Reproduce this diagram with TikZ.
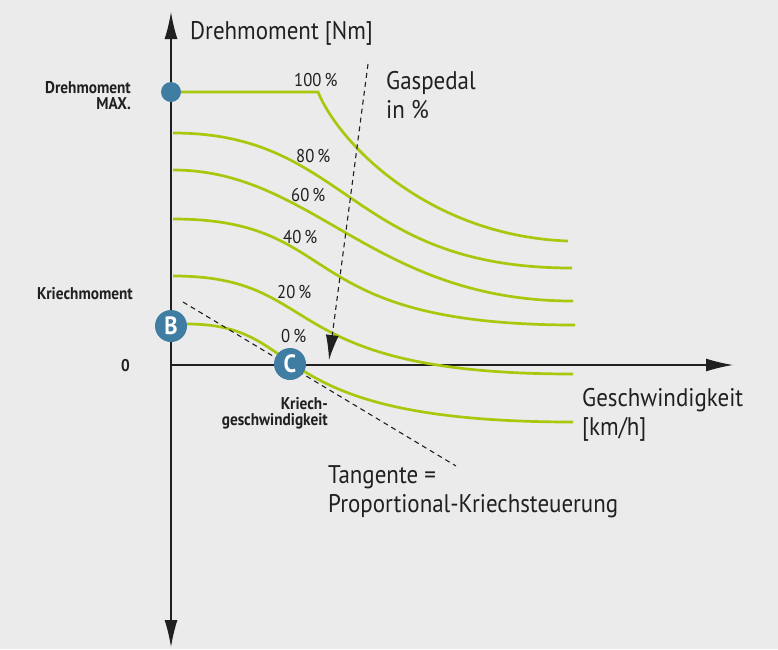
\documentclass[tikz,border=0pt]{standalone}
\usepackage{fontspec}
\setmainfont{PT Sans}[FakeStretch=0.9]
\usetikzlibrary{arrows.meta}
\definecolor{grund}{RGB}{235,235,235}
\definecolor{gruen}{RGB}{168,200,14}
\definecolor{blau}{RGB}{63,125,162}
\definecolor{tinte}{RGB}{32,32,32}
\tikzstyle{achse} = [draw=tinte, line width=1.3pt, -{Latex[length=27pt,width=13pt]}]
\tikzstyle{kurve} = [draw=gruen, line width=2.7pt]
\tikzstyle{hilfe} = [draw=tinte, line width=1.1pt, dash pattern=on 5pt off 4pt]
\tikzstyle{prozent} = [inner sep=0, anchor=base west, text=tinte, font=\fontsize{18.5}{20}\selectfont]
\tikzstyle{marke} = [inner sep=0, anchor=base east, align=right, text=tinte, font=\bfseries\fontsize{17}{16}\selectfont]
\tikzstyle{titel} = [inner sep=0, anchor=base west, align=left, text=tinte, font=\fontsize{25.5}{29}\selectfont]
\tikzstyle{kreis} = [circle, fill=blau, inner sep=0, minimum size=32pt, text=white, font=\bfseries\fontsize{25}{25}\selectfont]

\begin{document}
\begin{tikzpicture}[x=1pt,y=-1pt]
\fill[grund] (0,0) rectangle (778,649);
\useasboundingbox (0,0) rectangle (778,649);
% Achsen
\coordinate (o) at (171,365);
\coordinate (ob) at (171,12);
\coordinate (un) at (171,647);
\coordinate (re) at (733,365);
\draw[achse] (o) -- (ob);
\draw[achse] (o) -- (un);
\draw[achse] (o) -- (re);
% Kennlinien 100% ... 0%
\draw[kurve] (171,92) -- (318,92) .. controls (340,145) and (430,236) .. (568,241);
\draw[kurve] (173,133) .. controls (349,133) and (348,268) .. (572,268);
\draw[kurve] (173,170) .. controls (313,170) and (373,301) .. (573,301);
\draw[kurve] (173,219) .. controls (348,219) and (288,325) .. (575,325);
\draw[kurve] (173,276) .. controls (328,276) and (270,374) .. (573,374);
\draw[kurve] (187,324) .. controls (312,324) and (253,422) .. (573,422);
% Hilfslinien
\coordinate (t1) at (183,302);
\coordinate (t2) at (456,466);
\draw[hilfe] (t1) -- (t2);
\coordinate (g1) at (368,64);
\coordinate (g2) at (329,360);
\draw[hilfe, -{Latex[length=25pt,width=13pt]}] (g1) -- (g2);
% Punkte
\node [circle, fill=blau, inner sep=0, minimum size=20pt](max) at (171,92) {};
\node [kreis](b) at (171,326) {B};
\node [kreis](c) at (290,364) {C};
% Beschriftung
\node [titel](dm) at (190,39) {Drehmoment [Nm]};
\node [titel](gp) at (386,118) {Gaspedal\\in \%};
\node [titel](gw) at (582,435) {Geschwindigkeit\\{[km/h]}};
\node [titel](tg) at (328,512) {Tangente =\\Proportional-Kriechsteuerung};
\node [prozent](p100) at (294,86) {100\,\%};
\node [prozent](p80) at (296,162) {80\,\%};
\node [prozent](p60) at (291,201) {60\,\%};
\node [prozent](p40) at (283,243) {40\,\%};
\node [prozent](p20) at (277,298) {20\,\%};
\node [prozent](p0) at (281,342) {0\,\%};
\node [marke](mx) at (131,109) {Drehmoment\\MAX.};
\node [marke](km) at (133,299) {Kriechmoment};
\node [marke](nl) at (130,371) {0};
\node [marke](kg) at (328,425) {Kriech-\\geschwindigkeit};
\end{tikzpicture}
\end{document}
